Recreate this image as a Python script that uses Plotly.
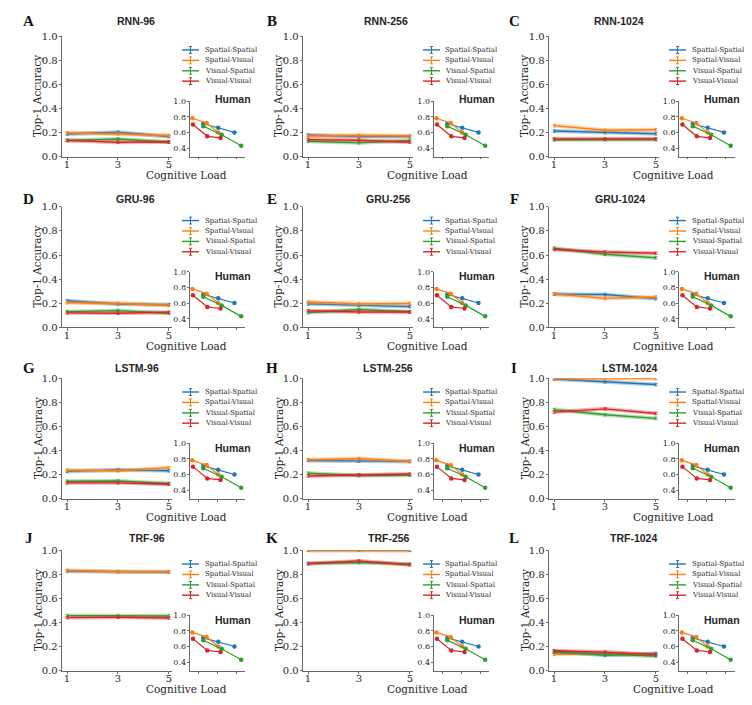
import plotly.graph_objects as go

W, H = 752, 705

# ---- data ----
loads = [1, 3, 5]
conditions = ["Spatial-Spatial", "Spatial-Visual", "Visual-Spatial", "Visual-Visual"]
panel_letters = ["A", "B", "C", "D", "E", "F", "G", "H", "I", "J", "K", "L"]
panel_titles = ["RNN-96", "RNN-256", "RNN-1024",
                "GRU-96", "GRU-256", "GRU-1024",
                "LSTM-96", "LSTM-256", "LSTM-1024",
                "TRF-96", "TRF-256", "TRF-1024"]

# top-1 accuracy at load 1, 3, 5 (one row per panel)
acc_spatial_spatial = [
    [0.188, 0.203, 0.167],
    [0.180, 0.167, 0.168],
    [0.213, 0.200, 0.190],
    [0.220, 0.193, 0.188],
    [0.195, 0.183, 0.172],
    [0.275, 0.272, 0.238],
    [0.227, 0.240, 0.232],
    [0.318, 0.312, 0.310],
    [0.994, 0.970, 0.948],
    [0.827, 0.823, 0.820],
    [1.000, 1.000, 1.000],
    [0.160, 0.128, 0.143],
]
acc_spatial_visual = [
    [0.198, 0.190, 0.176],
    [0.172, 0.177, 0.172],
    [0.258, 0.220, 0.224],
    [0.204, 0.198, 0.183],
    [0.210, 0.195, 0.198],
    [0.278, 0.240, 0.252],
    [0.238, 0.232, 0.258],
    [0.323, 0.334, 0.310],
    [0.997, 0.997, 0.997],
    [0.833, 0.822, 0.822],
    [1.000, 1.000, 1.000],
    [0.137, 0.148, 0.131],
]
acc_visual_spatial = [
    [0.135, 0.147, 0.122],
    [0.128, 0.115, 0.135],
    [0.140, 0.142, 0.142],
    [0.130, 0.139, 0.117],
    [0.122, 0.148, 0.130],
    [0.657, 0.606, 0.577],
    [0.145, 0.148, 0.127],
    [0.212, 0.193, 0.195],
    [0.740, 0.697, 0.667],
    [0.458, 0.455, 0.455],
    [0.889, 0.899, 0.885],
    [0.153, 0.140, 0.123],
]
acc_visual_visual = [
    [0.135, 0.120, 0.122],
    [0.142, 0.137, 0.120],
    [0.148, 0.148, 0.148],
    [0.120, 0.117, 0.126],
    [0.137, 0.127, 0.127],
    [0.646, 0.625, 0.615],
    [0.132, 0.132, 0.120],
    [0.189, 0.200, 0.205],
    [0.719, 0.746, 0.708],
    [0.441, 0.444, 0.438],
    [0.890, 0.912, 0.880],
    [0.166, 0.155, 0.134],
]

# human inset (same in every panel)
human_x_ss = [1.27, 2.05, 2.90]
human_y_ss = [0.71, 0.66, 0.60]
human_x_sv = [0.70, 1.45, 2.05]
human_y_sv = [0.78, 0.72, 0.60]
human_x_vs = [1.27, 2.23, 3.25]
human_y_vs = [0.68, 0.57, 0.43]
human_x_vv = [0.73, 1.48, 2.17]
human_y_vv = [0.70, 0.55, 0.53]

model_acc = [acc_spatial_spatial, acc_spatial_visual, acc_visual_spatial, acc_visual_visual]
human_x = [human_x_ss, human_x_sv, human_x_vs, human_x_vv]
human_y = [human_y_ss, human_y_sv, human_y_vs, human_y_vv]

colors = ["#1f77b4", "#ff7f0e", "#2ca02c", "#d62728"]
bands = ["rgba(31,119,180,0.35)", "rgba(255,127,14,0.35)",
         "rgba(44,160,44,0.35)", "rgba(214,39,40,0.35)"]
INK = "#262626"
SERIF = "DejaVu Serif"
SANS = "Liberation Sans"

# ---- layout in pixels ----
main_left = [62, 303, 549]
inset_left = [189.5, 433.5, 679]
row_top = [30.7, 204.3, 378.7, 553.7]
title_x = [[135.5, 386, 619], [135, 388, 620], [136.5, 388, 630], [146.5, 389, 633]]
title_y = [15, 196, 368.5, 541]
letter_x = [28.5, 271.5, 514]
human_dy = [-2.4, 4.5, 4.5, 4.5]
legend_dy = [14, 24.6, 35.2, 45.7]
MAIN_W, MAIN_H = 110, 122.6
INSET_W, INSET_TOP = 55.5, 66


def px(x):
    return x / W


def py(y):
    return 1 - y / H


fig = go.Figure()
shapes = []
annotations = []
layout_axes = {}

for p in range(12):
    r, c = divmod(p, 3)
    top = row_top[r]
    left = main_left[c]
    mx, my = 2 * p + 1, 2 * p + 1
    ix, iy = 2 * p + 2, 2 * p + 2

    # main panel: soft band + line with error bars
    for k in range(4):
        y = model_acc[k][p]
        fig.add_trace(go.Scatter(
            x=loads, y=y, mode="lines", xaxis=f"x{mx}", yaxis=f"y{my}",
            line=dict(color=bands[k], width=4), showlegend=False,
            hoverinfo="skip", cliponaxis=False))
        fig.add_trace(go.Scatter(
            x=loads, y=y, mode="lines", xaxis=f"x{mx}", yaxis=f"y{my}",
            line=dict(color=colors[k], width=1.4), name=conditions[k],
            error_y=dict(type="constant", value=0.01, color=colors[k],
                         thickness=0.8, width=1.5),
            showlegend=False, cliponaxis=False))

    # human inset
    for k in range(4):
        fig.add_trace(go.Scatter(
            x=human_x[k], y=human_y[k], mode="lines+markers",
            xaxis=f"x{ix}", yaxis=f"y{iy}",
            line=dict(color=colors[k], width=1.2),
            marker=dict(color=colors[k], size=4.5),
            name="Human " + conditions[k],
            showlegend=False, cliponaxis=False))

    axis_common = dict(showgrid=False, zeroline=False, showline=True,
                       linecolor="#444", linewidth=0.8, ticks="outside",
                       tickcolor="#444", ticklen=2.5, tickwidth=0.8,
                       tickfont=dict(family=SERIF, size=10, color=INK))
    layout_axes[f"xaxis{mx}"] = dict(
        axis_common, domain=[px(left), px(left + MAIN_W)], anchor=f"y{my}",
        range=[0.804, 5.118], tickvals=loads, ticklabelstandoff=-4)
    layout_axes[f"yaxis{my}"] = dict(
        axis_common, domain=[py(top + MAIN_H), py(top)], anchor=f"x{mx}",
        range=[0, 1], tickvals=[0, 0.2, 0.4, 0.6, 0.8, 1.0], tickformat=".1f",
        ticklabelstandoff=-1)
    ileft = inset_left[c]
    layout_axes[f"xaxis{ix}"] = dict(
        axis_common, domain=[px(ileft), px(ileft + INSET_W)], anchor=f"y{iy}",
        range=[0.55, 3.45], tickvals=[1, 2, 3], showticklabels=False, ticklen=2)
    layout_axes[f"yaxis{iy}"] = dict(
        axis_common, domain=[py(top + MAIN_H), py(top + INSET_TOP)], anchor=f"x{ix}",
        range=[0.29, 1.0], tickvals=[0.4, 0.6, 0.8, 1.0], tickformat=".1f",
        ticklen=2, ticklabelstandoff=-1,
        tickfont=dict(family=SERIF, size=8, color=INK))

    # texts
    annotations.append(dict(
        x=px(letter_x[c]), y=py(title_y[r]), xref="paper", yref="paper",
        text=f"<b>{panel_letters[p]}</b>", showarrow=False,
        xanchor="center", yanchor="middle",
        font=dict(family="Liberation Serif", size=15, color="#111")))
    annotations.append(dict(
        x=px(title_x[r][c]), y=py(title_y[r]), xref="paper", yref="paper",
        text=f"<b>{panel_titles[p]}</b>", showarrow=False,
        xanchor="center", yanchor="middle",
        font=dict(family=SANS, size=10.5, color=INK)))
    annotations.append(dict(
        x=px(left - 24.5), y=py(top + MAIN_H / 2), xref="paper", yref="paper",
        text="Top-1 Accuracy", textangle=-90, showarrow=False,
        xanchor="center", yanchor="middle",
        font=dict(family=SERIF, size=10.5, color=INK)))
    annotations.append(dict(
        x=px(left + 124), y=py(top + 141.5), xref="paper", yref="paper",
        text="Cognitive Load", showarrow=False, xanchor="center", yanchor="middle",
        font=dict(family=SERIF, size=10.5, color=INK)))
    annotations.append(dict(
        x=px(ileft + 43), y=py(top + INSET_TOP + human_dy[r]), xref="paper",
        yref="paper", text="<b>Human</b>", showarrow=False,
        xanchor="center", yanchor="middle",
        font=dict(family=SANS, size=10.5, color=INK)))

    # legend (line with errorbar glyph)
    for k in range(4):
        ly = top + legend_dy[k]
        x0, x1 = left + 120, left + 137
        xm = (x0 + x1) / 2
        seg = dict(type="line", xref="paper", yref="paper",
                   line=dict(color=colors[k], width=1.4))
        shapes.append(dict(seg, x0=px(x0), x1=px(x1), y0=py(ly), y1=py(ly)))
        shapes.append(dict(seg, x0=px(xm), x1=px(xm), y0=py(ly - 3.5), y1=py(ly + 3.5),
                           line=dict(color=colors[k], width=1)))
        for cy in (ly - 3.5, ly + 3.5):
            shapes.append(dict(seg, x0=px(xm - 1.6), x1=px(xm + 1.6), y0=py(cy), y1=py(cy),
                               line=dict(color=colors[k], width=1)))
        annotations.append(dict(
            x=px(left + 140.5), y=py(ly), xref="paper", yref="paper",
            text=conditions[k], showarrow=False, xanchor="left", yanchor="middle",
            font=dict(family=SERIF, size=7, color=INK)))

fig.update_layout(
    width=W, height=H,
    margin=dict(l=0, r=0, t=0, b=0),
    paper_bgcolor="white", plot_bgcolor="white",
    showlegend=False,
    shapes=shapes, annotations=annotations,
    **layout_axes,
)

# page body margin would shift the figure inside the window
fig.write_html("out.html", config={"displayModeBar": False, "staticPlot": True},
               post_script="document.body.style.margin='0';document.body.style.overflow='hidden';")
